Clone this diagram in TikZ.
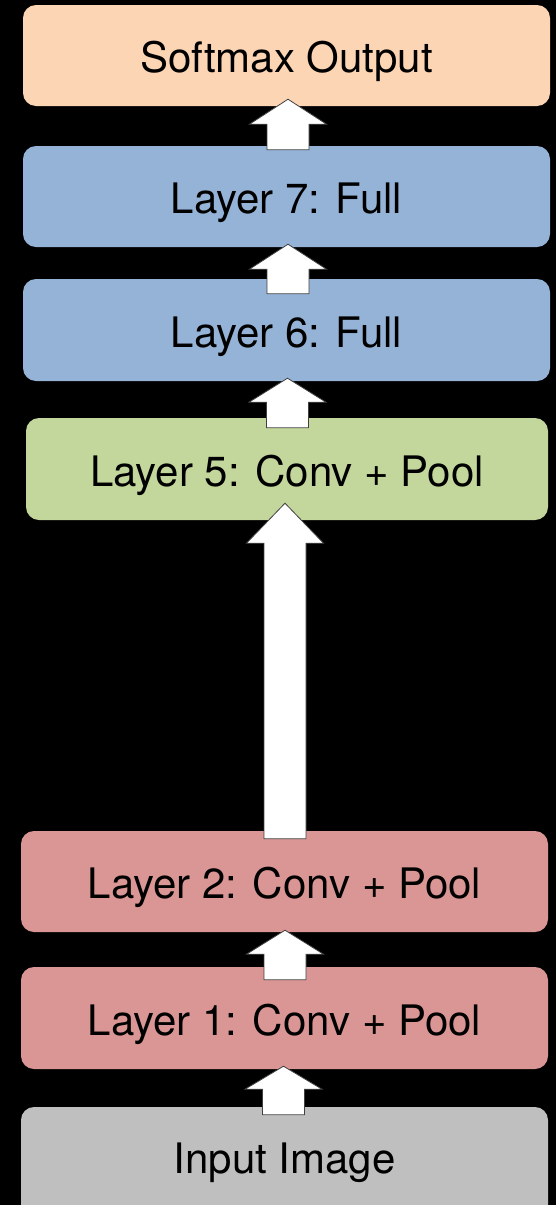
\documentclass[tikz,border=0pt]{standalone}
\usepackage{fontspec}
\setmainfont{TeX Gyre Heros}
\usetikzlibrary{calc}
\definecolor{cpeach}{HTML}{FCD5B5}
\definecolor{cblue}{HTML}{95B3D7}
\definecolor{cgreen}{HTML}{C3D69B}
\definecolor{cred}{HTML}{D99694}
\definecolor{cgray}{HTML}{BFBFBF}
\tikzset{
  layerbox/.style={rectangle, rounded corners=13pt, inner sep=0pt,
    minimum width=527pt, minimum height=101pt,
    font=\fontsize{42}{50}\selectfont, text=black,
    text height=34pt, text depth=0pt},
  blockarrow/.style={fill=white, draw=black!75, line width=0.8pt, line join=miter},
}
\newcommand{\blockarr}[6]{%
  \coordinate (xc) at (#3,0);
  \coordinate (tp) at ($(#2.south)+(0,#4)$);
  \coordinate (bt) at ($(#1.north)+(0,#6)$);
  \path (tp -| xc) coordinate (T) (bt -| xc) coordinate (B);
  \draw[blockarrow] (T) -- ($(T)+(38.5,#5)$) -- ($(T)+(21,#5)$) -- ($(B)+(21,0)$)
    -- ($(B)+(-21,0)$) -- ($(T)+(-21,#5)$) -- ($(T)+(-38.5,#5)$) -- cycle;
}
\begin{document}
\begin{tikzpicture}[x=1pt,y=-1pt]
\useasboundingbox (0,0) rectangle (556,1205);
\fill[black] (0,0) rectangle (556,1205);

\node[layerbox, fill=cpeach] (soft) at (286.5,55.5) {Softmax Output};
\node[layerbox, fill=cblue] (l7) at (286.5,196.5) {Layer 7: Full};
\node[layerbox, fill=cblue, minimum height=102pt] (l6) at (286.5,330) {Layer 6: Full};
\node[layerbox, fill=cgreen, minimum width=522pt, minimum height=102pt] (l5) at (287,469) {Layer 5: Conv + Pool};
\node[layerbox, fill=cred] (l2) at (284.5,881.5) {Layer 2: Conv + Pool};
\node[layerbox, fill=cred, minimum height=102pt] (l1) at (284.5,1018) {Layer 1: Conv + Pool};
\node[layerbox, fill=cgray, minimum height=126pt, text depth=28pt] (inp) at (284.5,1170) {Input Image};

\blockarr{l7}{soft}{288}{-7}{25}{4}
\blockarr{l6}{l7}{288}{-3}{25}{15}
\blockarr{l5}{l6}{287.5}{-3}{24}{10}
\blockarr{l2}{l5}{285}{-17}{40}{8}
\blockarr{l1}{l2}{285}{-2}{24}{13}
\blockarr{inp}{l1}{283.5}{-3}{23}{8}
\end{tikzpicture}
\end{document}
